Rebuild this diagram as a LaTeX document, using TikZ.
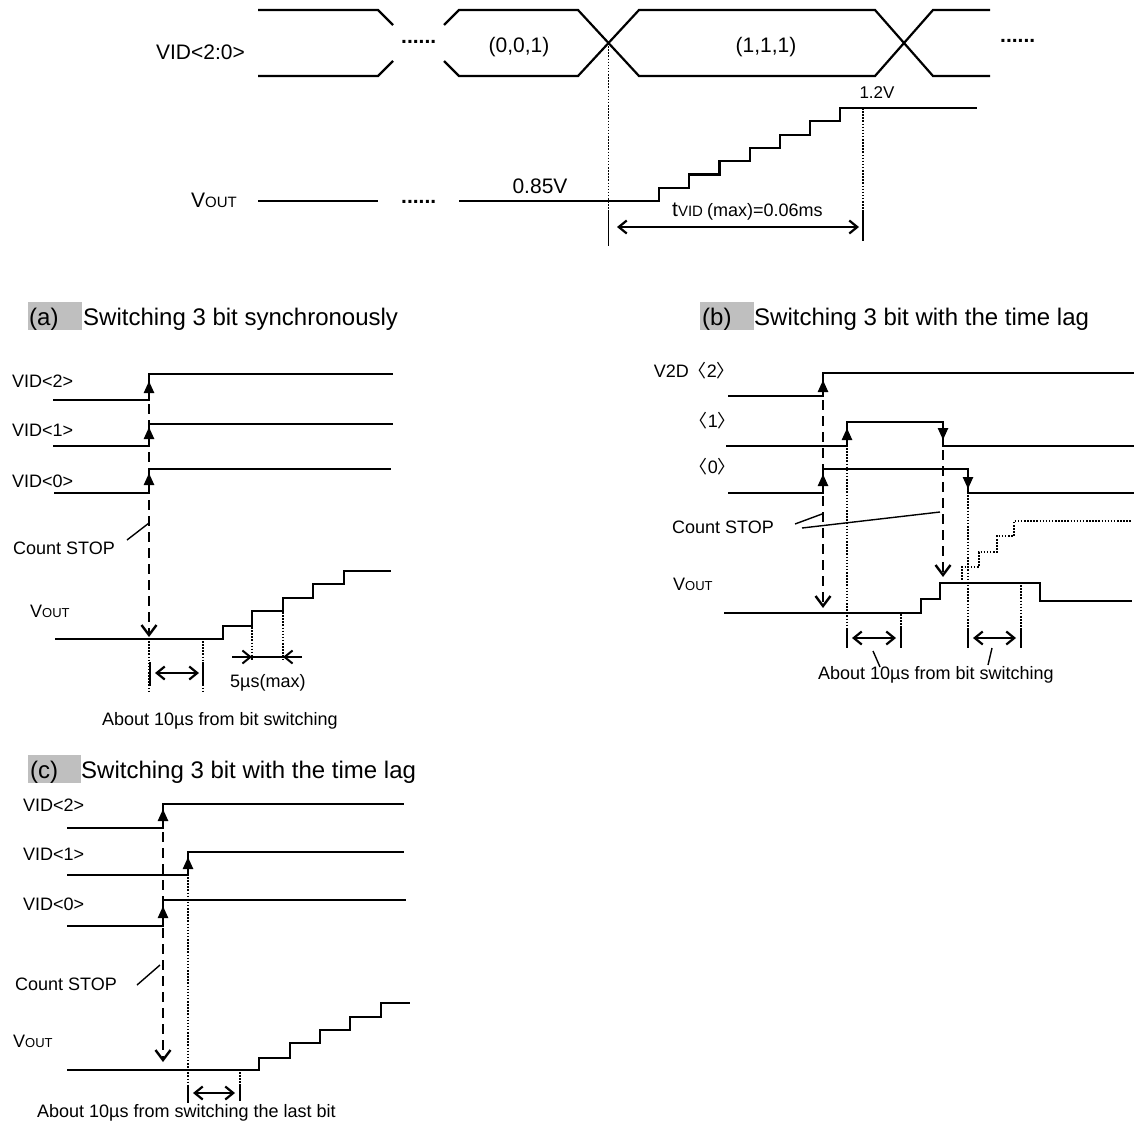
\documentclass[tikz,border=0pt]{standalone}
\usepackage{fontspec}
\setmainfont{Liberation Sans}
\newfontfamily\cjkfont{Noto Sans CJK JP}
\usetikzlibrary{arrows.meta}
\begin{document}
\begin{tikzpicture}[x=1pt,y=-1pt,
  wave/.style={line width=2.2pt, line join=miter, line cap=butt},
  dots/.style={line width=1.5pt, dash pattern=on 1.5pt off 1.6pt},
  dsh/.style={line width=2.4pt, dash pattern=on 10pt off 6pt},
  lead/.style={line width=1.4pt},
  tickline/.style={line width=1.8pt},
  uparr/.style={line width=2.4pt, -{Triangle[length=12pt,width=10pt]}},
  openarr/.style={-{Straight Barb[length=10pt,width=15pt,line width=2.4pt]}},
  dbl/.style={line width=2.2pt, {Straight Barb[length=8pt,width=13pt,line width=2.2pt]}-{Straight Barb[length=8pt,width=13pt,line width=2.2pt]}},
  sarr/.style={line width=1.8pt, -{Straight Barb[length=8pt,width=13pt,line width=2pt]}},
  txt/.style={inner sep=0pt, font=\fontsize{18}{20}\selectfont},
  big/.style={inner sep=0pt, font=\fontsize{21}{24}\selectfont},
  ttl/.style={inner sep=0pt, font=\fontsize{24}{28}\selectfont},
  tagbox/.style={fill=gray!50, draw=none}
]
\fill[white] (0,0) rectangle (1137,1122);
\useasboundingbox (0,0) rectangle (1137,1122);

%%%%%%%%%%%%%%%% TOP %%%%%%%%%%%%%%%%
\node[big, anchor=base east] (vidlbl) at (245,59) {VID<2:0>};
\draw[wave] (258,10)--(378,10)--(393,25);
\draw[wave] (258,76)--(378,76)--(393,61);
\node[big, font=\fontsize{21}{24}\selectfont\bfseries, anchor=base west] (dotsA) at (401,43) {......};
\draw[wave] (444,25)--(459,10)--(578,10)--(639,76)--(875,76)--(933,10)--(990,10);
\draw[wave] (444,61)--(459,76)--(578,76)--(639,10)--(875,10)--(933,76)--(990,76);
\node[big, anchor=base] (s001) at (519,52) {(0,0,1)};
\node[big, anchor=base] (s111) at (766,52) {(1,1,1)};
\node[big, font=\fontsize{21}{24}\selectfont\bfseries, anchor=base west] (dotsB) at (1000,42) {......};

\node[big, anchor=base east] (vouttop) at (237,207) {V{\fontsize{15}{16}\selectfont OUT}};
\draw[wave] (258,201)--(378,201);
\node[big, font=\fontsize{21}{24}\selectfont\bfseries, anchor=base west] (dotsC) at (401,203) {......};
\draw[wave] (459,201)--(659,201)--(659,187.7)--(689,187.7)--(689,174.4)--(719.5,174.4)--(719.5,161.1)--(750,161.1)--(750,147.9)--(780,147.9)--(780,134.6)--(810,134.6)--(810,121.3)--(840,121.3)--(840,108)--(977,108);
\node[big, anchor=base] (v085) at (540,193) {0.85V};
\node[inner sep=0pt, font=\fontsize{17}{18}\selectfont, anchor=base] (v12) at (877,98) {1.2V};
\coordinate (cx) at (608.5,43);
\coordinate (cxb) at (608.5,212);
\coordinate (ex) at (863,108);
\coordinate (exb) at (863,212);
\draw[dots] (cx)--(cxb);
\draw[tickline] (cxb)--(608.5,246);
\draw[dots] (ex)--(exb);
\draw[tickline] (exb)--(863,241);
\draw[dbl] (617,227)--(859,227);
\node[anchor=base west, inner sep=0pt] (tvid) at (672,216) {\fontsize{21}{24}\selectfont t\fontsize{15}{16}\selectfont VID \fontsize{18}{20}\selectfont(max)=0.06ms};

%%%%%%%%%%%%%%%% PANEL (a) %%%%%%%%%%%%%%%%
\fill[tagbox] (28,302) rectangle (82,330);
\node[ttl, anchor=base west] (ta) at (29,325) {(a)};
\node[ttl, anchor=base west] (tta) at (83,325) {Switching 3 bit synchronously};

\node[txt, anchor=base west] (a2) at (12,387) {VID<2>};
\node[txt, anchor=base west] (a1) at (12,436) {VID<1>};
\node[txt, anchor=base west] (a0) at (12,487) {VID<0>};
\draw[wave] (53,400)--(149,400)--(149,374)--(393,374);
\draw[wave] (53,446)--(149,446)--(149,424)--(393,424);
\draw[wave] (54,493)--(149,493)--(149,469)--(391,469);
\draw[dsh, openarr] (149,404)--(149,637);
\draw[uparr] (149,400)--(149,381);
\draw[uparr] (149,446)--(149,427);
\draw[uparr] (149,493)--(149,473);
\node[txt, anchor=base west] (acs) at (13,554) {Count STOP};
\draw[lead] (127,540)--(149,523);
\node[txt, anchor=base west] (avo) at (30,617) {V{\fontsize{13}{14}\selectfont OUT}};
\draw[wave] (55,639)--(223,639)--(223,626)--(252,626)--(252,611)--(283,611)--(283,598)--(313,598)--(313,584)--(344,584)--(344,571)--(391,571);
\draw[dots] (149,641)--(149,692);
\draw[dots] (203,641)--(203,692);
\draw[tickline] (150,662)--(150,686);
\draw[tickline] (203,662)--(203,686);
\draw[dbl] (155,673)--(199,673);
\draw[dots] (252,627)--(252,661);
\draw[dots] (283,612)--(283,661);
\draw[line width=1.8pt] (232,657)--(302,657);
\draw[sarr] (232,657)--(252,657);
\draw[sarr] (302,657)--(283,657);
\node[txt, anchor=base west] (a5us) at (230,687) {5µs(max)};
\node[txt, anchor=base west] (aabout) at (102,725) {About 10µs from bit switching};

%%%%%%%%%%%%%%%% PANEL (b) %%%%%%%%%%%%%%%%
\fill[tagbox] (700,302) rectangle (754,330);
\node[ttl, anchor=base west] (tb) at (702,325) {(b)};
\node[ttl, anchor=base west] (ttb) at (754,325) {Switching 3 bit with the time lag};

\node[txt, anchor=base east] (b2) at (735,377) {V2D{\cjkfont 〈}2{\cjkfont 〉}};
\node[txt, anchor=base east] (b1) at (736,427) {{\cjkfont 〈}1{\cjkfont 〉}};
\node[txt, anchor=base east] (b0) at (736,473) {{\cjkfont 〈}0{\cjkfont 〉}};
\draw[wave] (728,396)--(823,396)--(823,373)--(1134,373);
\draw[wave] (726,446)--(847,446)--(847,422)--(943,422)--(943,446)--(1134,446);
\draw[wave] (728,493)--(823,493)--(823,469)--(968,469)--(968,493)--(1134,493);
\draw[dsh, openarr] (823,400)--(823,608);
\draw[dsh, openarr] (943,450)--(943,577);
\draw[uparr] (823,396)--(823,380);
\draw[uparr] (823,493)--(823,474);
\draw[uparr] (847,446)--(847,428);
\draw[uparr] (943,422)--(943,440);
\draw[uparr] (968,469)--(968,489);
\node[txt, anchor=base west] (bcs) at (672,533) {Count STOP};
\draw[lead] (795,524)--(822,514);
\draw[lead] (802,528)--(940,512);
\node[txt, anchor=base west] (bvo) at (673,590) {V{\fontsize{13}{14}\selectfont OUT}};
\draw[wave] (724,613)--(921,613)--(921,599)--(940,599)--(940,583)--(1040,583)--(1040,601)--(1132,601);
\draw[dots] (962,583)--(962,567)--(979,567)--(979,552)--(997,552)--(997,536)--(1014,536)--(1014,521)--(1132,521);
\draw[dots] (847,448)--(847,628);
\draw[dots] (901,614)--(901,628);
\draw[dots] (968,495)--(968,628);
\draw[dots] (1021,585)--(1021,628);
\draw[tickline] (847,628)--(847,648);
\draw[tickline] (901,628)--(901,648);
\draw[tickline] (968,628)--(968,648);
\draw[tickline] (1021,628)--(1021,648);
\draw[dbl] (852,638)--(896,638);
\draw[dbl] (973,638)--(1016,638);
\node[txt, anchor=base west] (babout) at (818,679) {About 10µs from bit switching};
\draw[lead] (873,651)--(880,667);
\draw[lead] (992,648)--(988,665);

%%%%%%%%%%%%%%%% PANEL (c) %%%%%%%%%%%%%%%%
\fill[tagbox] (28,755) rectangle (81,783);
\node[ttl, anchor=base west] (tc) at (30,778) {(c)};
\node[ttl, anchor=base west] (ttc) at (81,778) {Switching 3 bit with the time lag};

\node[txt, anchor=base west] (c2) at (23,811) {VID<2>};
\node[txt, anchor=base west] (c1) at (23,860) {VID<1>};
\node[txt, anchor=base west] (c0) at (23,910) {VID<0>};
\draw[wave] (67,828)--(163,828)--(163,804)--(404,804);
\draw[wave] (67,875)--(188,875)--(188,852)--(404,852);
\draw[wave] (67,926)--(163,926)--(163,900)--(406,900);
\draw[dsh, openarr] (163,832)--(163,1062);
\draw[uparr] (163,828)--(163,809);
\draw[uparr] (188,875)--(188,857);
\draw[uparr] (163,926)--(163,906);
\node[txt, anchor=base west] (ccs) at (15,990) {Count STOP};
\draw[lead] (137,985)--(160,965);
\node[txt, anchor=base west] (cvo) at (13,1047) {V{\fontsize{13}{14}\selectfont OUT}};
\draw[wave] (67,1070)--(259,1070)--(259,1058)--(290,1058)--(290,1043)--(320,1043)--(320,1030)--(350,1030)--(350,1017)--(381,1017)--(381,1003)--(410,1003);
\draw[dots] (188,877)--(188,1085);
\draw[dots] (240,1072)--(240,1085);
\draw[tickline] (188,1085)--(188,1103);
\draw[tickline] (240,1085)--(240,1101);
\draw[dbl] (193,1093)--(235,1093);
\node[txt, anchor=base west] (cabout) at (37,1117) {About 10µs from switching the last bit};
\end{tikzpicture}
\end{document}
